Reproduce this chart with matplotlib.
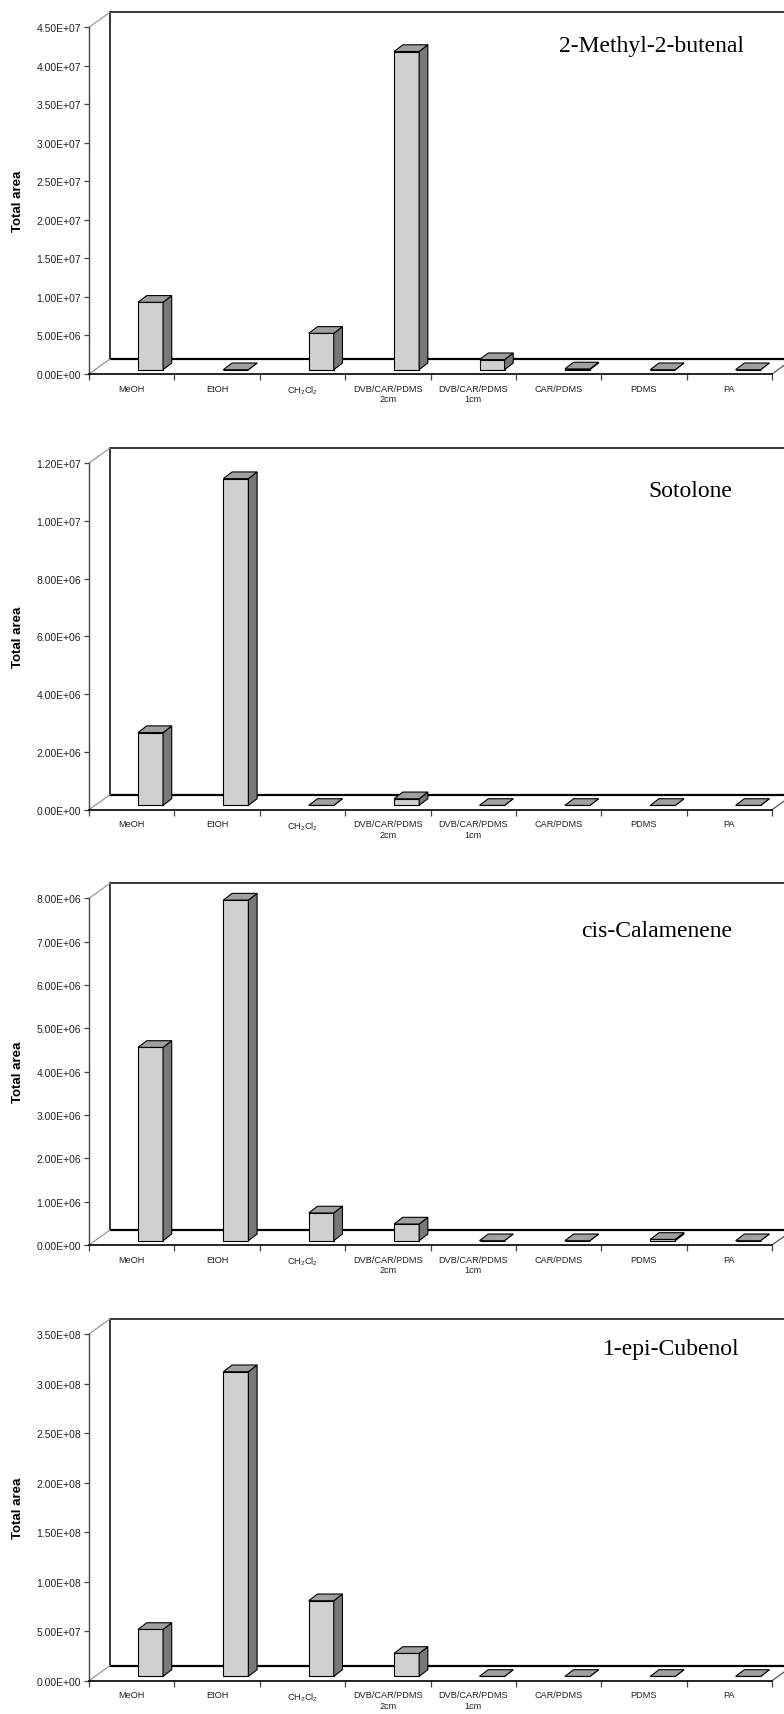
import matplotlib
matplotlib.use('Agg')
import matplotlib.pyplot as plt
from matplotlib.patches import Polygon

plt.rcParams['font.family'] = ['Liberation Sans', 'DejaVu Sans']
plt.rcParams['mathtext.default'] = 'regular'

# fibre / solvent categories on the x axis
fibres = ['MeOH', 'EtOH', 'CH$_2$Cl$_2$', 'DVB/CAR/PDMS\n2cm', 'DVB/CAR/PDMS\n1cm',
          'CAR/PDMS', 'PDMS', 'PA']

compounds = ['2-Methyl-2-butenal', 'Sotolone', 'cis-Calamenene', '1-epi-Cubenol']

# total peak area per extraction method
methylbutenal = [8.75e6, 0, 4.72e6, 4.13e7, 1.3e6, 1.0e5, 0, 0]
sotolone = [2.52e6, 1.131e7, 0, 2.3e5, 0, 0, 0, 0]
calamenene = [4.46e6, 7.86e6, 6.4e5, 3.85e5, 0, 0, 3e4, 0]
cubenol = [4.74e7, 3.076e8, 7.64e7, 2.32e7, 0, 0, 0, 0]

y_max = [4.5e7, 1.2e7, 8.0e6, 3.5e8]
y_step = [5e6, 2e6, 1e6, 5e7]

series = [methylbutenal, sotolone, calamenene, cubenol]

W, H = 784, 1715
fig = plt.figure(figsize=(W / 100, H / 100), dpi=100)

# pixel layout of the front plane of each panel
left_px, right_px = 89, 772
plot_h = 346.7
zero_px = [375, 810.7, 1246, 1681.7]
title_pos = [(0.959, 0.9325), (0.9414, 0.9057), (0.9414, 0.892), (0.952, 0.942)]

front_col = '#d0d0d0'
side_col = '#787878'
top_col = '#a0a0a0'

n = len(fibres)
cat_px = (right_px - left_px) / n
wall_dx = 21 / cat_px
wall_dy = 15 / plot_h
bar_x = 0.574
bar_w = 0.293
bar_dx = 8.7 / cat_px
bar_dy = 6.7 / plot_h
bar_base = 4.3 / plot_h

for k, vals in enumerate(series):
    ymax = y_max[k]
    bottom = 1 - zero_px[k] / H
    ax = fig.add_axes([left_px / W, bottom, (right_px - left_px) / W, plot_h / H])
    ax.set_xlim(0, n)
    ax.set_ylim(0, ymax)
    ax.patch.set_visible(False)

    dyw = wall_dy * ymax
    # back wall and floor
    ax.plot([wall_dx, wall_dx], [dyw, ymax + dyw], color='black', lw=1.1, clip_on=False, zorder=1)
    ax.plot([wall_dx, n + wall_dx], [ymax + dyw, ymax + dyw], color='black', lw=1.1,
            clip_on=False, zorder=1)
    ax.plot([wall_dx, n + wall_dx], [dyw, dyw], color='black', lw=1.6, clip_on=False, zorder=1)
    ax.plot([0, wall_dx], [0, dyw], color='#999999', lw=0.9, clip_on=False, zorder=1)
    ax.plot([0, wall_dx], [ymax, ymax + dyw], color='#999999', lw=0.9, clip_on=False, zorder=1)
    ax.plot([n, n + wall_dx], [0, dyw], color='#555555', lw=0.9, clip_on=False, zorder=1)

    # 3-D style columns
    base = bar_base * ymax
    ddy = bar_dy * ymax
    xs = [i + bar_x for i in range(n)]
    ax.bar(xs, vals, width=bar_w, bottom=base, align='edge', color=front_col,
           edgecolor='black', linewidth=0.8, zorder=3, clip_on=False)
    for x0, v in zip(xs, vals):
        side = [(x0 + bar_w, base), (x0 + bar_w + bar_dx, base + ddy),
                (x0 + bar_w + bar_dx, base + v + ddy), (x0 + bar_w, base + v)]
        top = [(x0, base + v), (x0 + bar_w, base + v),
               (x0 + bar_w + bar_dx, base + v + ddy), (x0 + bar_dx, base + v + ddy)]
        ax.add_patch(Polygon(side, closed=True, facecolor=side_col, edgecolor='black',
                             linewidth=0.8, zorder=3, clip_on=False))
        ax.add_patch(Polygon(top, closed=True, facecolor=top_col, edgecolor='black',
                             linewidth=0.8, zorder=3, clip_on=False))

    # axes styling
    for s in ['top', 'right']:
        ax.spines[s].set_visible(False)
    ax.spines['left'].set_color('#444444')
    ax.spines['left'].set_linewidth(1.0)
    ax.spines['bottom'].set_color('black')
    ax.spines['bottom'].set_linewidth(1.2)

    yt = [y_step[k] * i for i in range(int(round(ymax / y_step[k])) + 1)]
    ax.set_yticks(yt)
    ax.set_yticklabels(['{:.2E}'.format(v) for v in yt])
    ax.tick_params(axis='y', length=3.6, width=0.9, color='#444444', pad=2,
                   labelsize=7.5, labelcolor='#222222')

    ax.set_xticks(range(n + 1))
    ax.set_xticklabels([])
    ax.set_xticks([i + 0.5 for i in range(n)], minor=True)
    ax.set_xticklabels(fibres, minor=True)
    ax.tick_params(axis='x', which='major', length=4.3, width=0.9, color='#444444')
    ax.tick_params(axis='x', which='minor', length=0, pad=7, labelsize=6.6,
                   labelcolor='#222222')

    ax.text(-0.1035, 0.5, 'Total area', transform=ax.transAxes, rotation=90,
            ha='center', va='center', fontsize=9.5, fontweight='bold')
    tx, ty = title_pos[k]
    ax.text(tx, ty, compounds[k], transform=ax.transAxes, ha='right', va='baseline',
            fontsize=17, family=['Liberation Serif', 'DejaVu Serif'])

fig.savefig('out.png', dpi=100, facecolor='white')
